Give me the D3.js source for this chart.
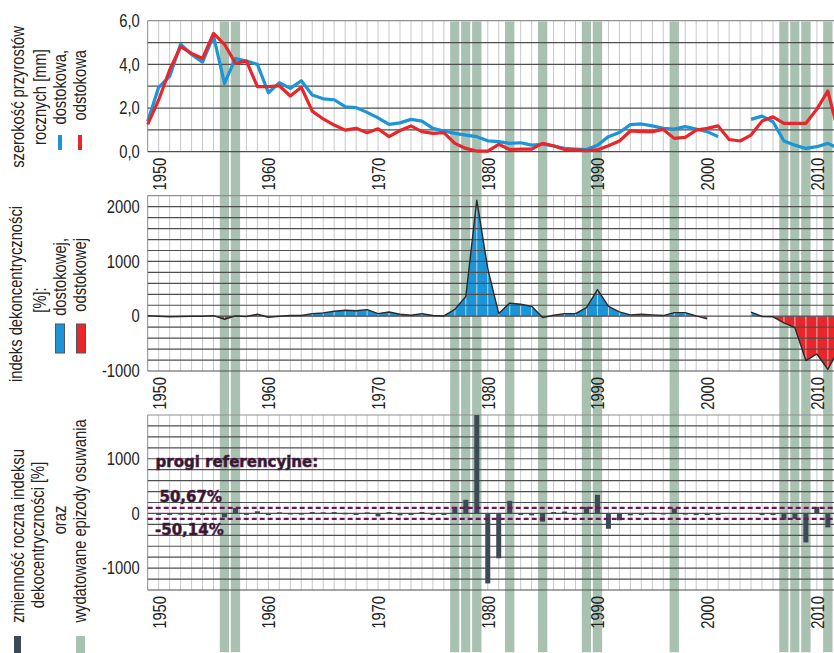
<!DOCTYPE html>
<html>
<head>
<meta charset="utf-8">
<script src="https://cdn.jsdelivr.net/npm/d3@7"></script>
<style>
  body { margin: 0; background: #fff; }
  text { font-family: "Liberation Sans", Arial, sans-serif; fill: #222; }
</style>
</head>
<body>
<svg id="chart" width="834" height="653"></svg>
<script>
// ---- data ----
const years = [1949,1950,1951,1952,1953,1954,1955,1956,1957,1958,1959,
  1960,1961,1962,1963,1964,1965,1966,1967,1968,1969,
  1970,1971,1972,1973,1974,1975,1976,1977,1978,1979,
  1980,1981,1982,1983,1984,1985,1986,1987,1988,1989,
  1990,1991,1992,1993,1994,1995,1996,1997,1998,1999,
  2000,2001,2002,2003,2004,2005,2006,2007,2008,2009,
  2010,2011,2012];

// szerokość przyrostów rocznych [mm] - dostokowa (blue)
const widthUp = [1.40,2.95,3.45,4.92,4.45,4.10,5.30,3.13,4.27,4.15,4.00,
  2.70,3.16,2.90,3.25,2.60,2.42,2.38,2.06,2.02,1.80,
  1.55,1.25,1.32,1.48,1.40,1.07,0.95,0.84,0.76,0.69,
  0.50,0.46,0.38,0.41,0.30,0.34,0.26,0.15,0.12,0.10,
  0.30,0.69,0.88,1.24,1.27,1.18,1.07,1.04,1.15,1.04,
  0.92,0.69,null,null,1.48,1.63,1.37,0.49,0.30,0.15,
  0.23,0.38,0.15];

// szerokość przyrostów rocznych [mm] - odstokowa (red)
const widthDown = [1.25,2.37,3.74,4.81,4.50,4.27,5.42,4.92,4.05,4.15,2.98,
  2.98,3.02,2.55,2.95,1.86,1.50,1.22,0.99,1.07,0.87,
  1.05,0.69,0.97,1.18,0.92,0.84,0.87,0.38,0.15,0.03,
  0.03,0.34,0.10,0.12,0.12,0.38,0.27,0.10,0.08,0.05,
  0.08,0.27,0.49,0.95,0.92,0.92,1.02,0.61,0.66,0.99,
  1.07,1.18,0.56,0.49,0.76,1.40,1.60,1.30,1.30,1.30,
  1.95,2.78,0.80];

// indeks dekoncentryczności [%]
const eccIndex = [10,0,-10,-5,0,0,10,-55,5,-5,35,
  -18,0,12,12,48,60,90,108,100,120,
  48,78,36,18,48,12,5,125,360,2120,
  870,48,240,218,180,-25,18,48,48,158,
  485,180,78,24,36,24,12,66,66,5,
  -48,null,null,null,73,-5,-10,-120,-210,-810,
  -690,-970,-600];

// zmienność roczna indeksu dekocentryczności [%]
const eccChange = [null,-8,-10,5,5,0,8,-70,100,-10,40,
  -30,20,8,5,25,20,25,10,-8,20,
  -55,25,-35,-15,25,-25,-8,120,250,1800,
  -1280,-820,230,-25,-35,-150,25,35,5,120,
  340,-280,-125,-35,-10,15,8,90,5,-30,
  -30,-25,null,null,null,-30,-30,-115,-100,-530,
  120,-255,null];

// wydatowane epizody osuwania
const slideYears = [1956,1957,1977,1978,1979,1982,1985,1989,1990,1997,2007,2008,2009,2011];

// progi referencyjne
const thresholdValues = [100,-100];
const thresholdLabels = ["50,67%","-50,14%"];

const yearTicks = [1950,1960,1970,1980,1990,2000,2010];
const topTicks = [0,2,4,6];
const midTicks = [-1000,0,1000,2000];
const botTicks = [-1000,0,1000];

// ---- setup ----
const W = 834, H = 653;
const svg = d3.select("#chart");
const plotLeft = 147.7;
const NARROW = 0.82;   // imitate Arial Narrow with Liberation Sans

// squeeze glyphs along the text direction
function narrow(sel) {
  sel.each(function () {
    const len = this.getComputedTextLength();
    this.setAttribute("textLength", len * NARROW);
    this.setAttribute("lengthAdjust", "spacingAndGlyphs");
  });
}

const locale = d3.formatLocale({decimal: ",", thousands: "", grouping: [3], currency: ["", ""], minus: "-"});
const fmt1 = locale.format(".1f");
const fmt0 = locale.format("d");

const x = d3.scaleLinear().domain([1949, 2012]).range([plotLeft, 838.8]);
const yearStep = x(1950) - x(1949);

const yTop = d3.scaleLinear().domain([0, 6]).range([151.7, 20.7]);
const yMid = d3.scaleLinear().domain([-1000, 2200]).range([371, 195.7]);
const yBot = d3.scaleLinear().domain([-1400, 1800]).range([590, 415]);

const panels = [
  {y: yTop, step: 1, ticks: topTicks, fmt: fmt1},
  {y: yMid, step: 200, ticks: midTicks, fmt: fmt0},
  {y: yBot, step: 200, ticks: botTicks, fmt: fmt0}
];

const COL_BLUE = "#1b95d8", COL_RED = "#e8262b", COL_BAND = "#a8c1b0",
      COL_BAR = "#3c4a55", COL_PURPLE = "#6c145e";

// vertical (year) grid lines
panels.forEach(p => {
  const [y0, y1] = p.y.range();
  svg.append("g")
    .selectAll("line").data(years).join("line")
    .attr("x1", d => x(d)).attr("x2", d => x(d))
    .attr("y1", y0).attr("y2", y1)
    .attr("stroke", d => d === 1949 ? "#8a8a8a" : "#c8c8c8")
    .attr("stroke-width", 1);
});

// slide episode bands across the whole figure
svg.append("g")
  .selectAll("rect").data(slideYears).join("rect")
  .attr("x", d => x(d) - yearStep / 2)
  .attr("width", yearStep)
  .attr("y", yTop(6))
  .attr("height", H - yTop(6))
  .attr("fill", COL_BAND)
  .attr("stroke", "#fff")
  .attr("stroke-width", 1.6);

// middle panel area fills (blue above zero, red below)
const midData = years.map((yr, i) => ({yr, v: eccIndex[i]}));
const defs = svg.append("defs");
const zeroY = yMid(0);
defs.append("clipPath").attr("id", "clipPos")
  .append("rect").attr("x", 0).attr("y", 0).attr("width", W).attr("height", zeroY);
defs.append("clipPath").attr("id", "clipNeg")
  .append("rect").attr("x", 0).attr("y", zeroY).attr("width", W).attr("height", H - zeroY);

const area = d3.area()
  .defined(d => d.v != null)
  .x(d => x(d.yr))
  .y0(zeroY)
  .y1(d => yMid(d.v));

svg.append("path").datum(midData).attr("d", area)
  .attr("fill", COL_BLUE).attr("clip-path", "url(#clipPos)");
svg.append("path").datum(midData).attr("d", area)
  .attr("fill", COL_RED).attr("clip-path", "url(#clipNeg)");

// light vertical grid visible through the fills
defs.append("clipPath").attr("id", "clipArea")
  .append("path").datum(midData).attr("d", area);
svg.append("g").attr("clip-path", "url(#clipArea)")
  .selectAll("line").data(years).join("line")
  .attr("x1", d => x(d)).attr("x2", d => x(d))
  .attr("y1", yMid.range()[0]).attr("y2", yMid.range()[1])
  .attr("stroke", "#e6e6e6").attr("stroke-width", 1).attr("opacity", 0.8);

// horizontal grid lines + y labels
panels.forEach(p => {
  const [lo, hi] = p.y.domain();
  const vals = d3.range(lo, hi + p.step / 2, p.step);
  svg.append("g")
    .selectAll("line").data(vals).join("line")
    .attr("x1", plotLeft).attr("x2", W)
    .attr("y1", d => p.y(d)).attr("y2", d => p.y(d))
    .attr("stroke", d => d === hi ? "#8f8f8f" : "#4e4e4e")
    .attr("stroke-width", 1.2);

  const ax = svg.append("g")
    .attr("transform", `translate(${plotLeft},0)`)
    .call(d3.axisLeft(p.y).tickValues(p.ticks).tickFormat(p.fmt).tickSize(0).tickPadding(8));
  ax.select(".domain").remove();
  ax.selectAll("text").style("font-size", "18px").attr("fill", "#222")
    .style("font-family", '"Liberation Sans", Arial, sans-serif')
    .call(narrow);

  // year labels below each panel, rotated
  const xa = svg.append("g")
    .attr("transform", `translate(0,${p.y.range()[0]})`)
    .call(d3.axisBottom(x).tickValues(yearTicks).tickFormat(fmt0).tickSize(0));
  xa.select(".domain").remove();
  xa.selectAll("text")
    .attr("transform", "rotate(-90)")
    .attr("x", -6).attr("y", 0).attr("dy", "0.36em")
    .attr("text-anchor", "end")
    .style("font-size", "18px").attr("fill", "#222")
    .style("font-family", '"Liberation Sans", Arial, sans-serif')
    .call(narrow);
});

// middle panel outline
svg.append("path").datum(midData)
  .attr("d", d3.line().defined(d => d.v != null).x(d => x(d.yr)).y(d => yMid(d.v)))
  .attr("fill", "none").attr("stroke", "#2a2a2a").attr("stroke-width", 1.4)
  .attr("stroke-linejoin", "round");

// top panel lines
const topLine = d3.line().defined(d => d.v != null).x(d => x(d.yr)).y(d => yTop(d.v));
[[widthUp, COL_BLUE], [widthDown, COL_RED]].forEach(([vals, col]) => {
  svg.append("path")
    .datum(years.map((yr, i) => ({yr, v: vals[i]})))
    .attr("d", topLine)
    .attr("fill", "none").attr("stroke", col).attr("stroke-width", 3.2)
    .attr("stroke-linejoin", "round");
});

// bottom panel bars
const barW = 5;
svg.append("g")
  .selectAll("rect")
  .data(years.map((yr, i) => ({yr, v: eccChange[i]})).filter(d => d.v != null))
  .join("rect")
  .attr("x", d => x(d.yr) - barW / 2)
  .attr("width", barW)
  .attr("y", d => yBot(Math.max(0, d.v)))
  .attr("height", d => Math.max(1.5, Math.abs(yBot(d.v) - yBot(0))))
  .attr("fill", COL_BAR);

// threshold lines
svg.append("g")
  .selectAll("line").data(thresholdValues).join("line")
  .attr("x1", plotLeft).attr("x2", W)
  .attr("y1", d => yBot(d)).attr("y2", d => yBot(d))
  .attr("stroke", COL_PURPLE).attr("stroke-width", 2.3)
  .attr("stroke-dasharray", "5,3");

function purpleLabel(px, py, str) {
  svg.append("text").attr("x", px).attr("y", py)
    .style("font-family", '"DejaVu Sans", sans-serif')
    .style("font-weight", "bold").style("font-size", "15px")
    .attr("fill", COL_PURPLE)
    .attr("stroke", COL_PURPLE).attr("stroke-width", 0.5)
    .text(str);
}
purpleLabel(155.5, 467, "progi referencyjne:");
purpleLabel(159.5, 502, thresholdLabels[0]);
purpleLabel(155, 535, thresholdLabels[1]);

// ---- left side rotated legends (squeezed by a scale transform) ----
function vtext(cx, y, anchor, str) {
  svg.append("text")
    .attr("transform", `translate(${cx + 5.5},${y}) rotate(-90) scale(${NARROW},1)`)
    .attr("text-anchor", anchor)
    .style("font-size", "18px")
    .attr("fill", "#333")
    .text(str);
}

// top
vtext(18, 97, "middle", "szerokość przyrostów");
vtext(40, 97, "middle", "rocznych [mm]");
vtext(60, 50, "end", "dostokowa,");
vtext(80, 50, "end", "odstokowa");
svg.append("line").attr("x1", 60).attr("x2", 60).attr("y1", 135).attr("y2", 150)
  .attr("stroke", COL_BLUE).attr("stroke-width", 4);
svg.append("line").attr("x1", 80).attr("x2", 80).attr("y1", 135).attr("y2", 150)
  .attr("stroke", COL_RED).attr("stroke-width", 4);

// middle
vtext(16.5, 294, "middle", "indeks dekoncentryczności");
vtext(40, 300, "middle", "[%]:");
vtext(60, 238, "end", "dostokowej,");
vtext(80, 238, "end", "odstokowej");
svg.append("rect").attr("x", 55.5).attr("y", 324).attr("width", 9).attr("height", 29)
  .attr("fill", COL_BLUE).attr("stroke", "#555").attr("stroke-width", 1);
svg.append("rect").attr("x", 76.5).attr("y", 324).attr("width", 9).attr("height", 29)
  .attr("fill", COL_RED).attr("stroke", "#555").attr("stroke-width", 1);

// bottom
vtext(18, 536, "middle", "zmienność roczna indeksu");
vtext(38, 535, "middle", "dekocentryczności [%]");
vtext(60, 520, "middle", "oraz");
vtext(80, 521, "middle", "wydatowane epizody osuwania");
svg.append("rect").attr("x", 14).attr("y", 636).attr("width", 7).attr("height", 17)
  .attr("fill", COL_BAR);
svg.append("rect").attr("x", 76).attr("y", 636).attr("width", 9).attr("height", 17)
  .attr("fill", COL_BAND);
</script>
</body>
</html>
